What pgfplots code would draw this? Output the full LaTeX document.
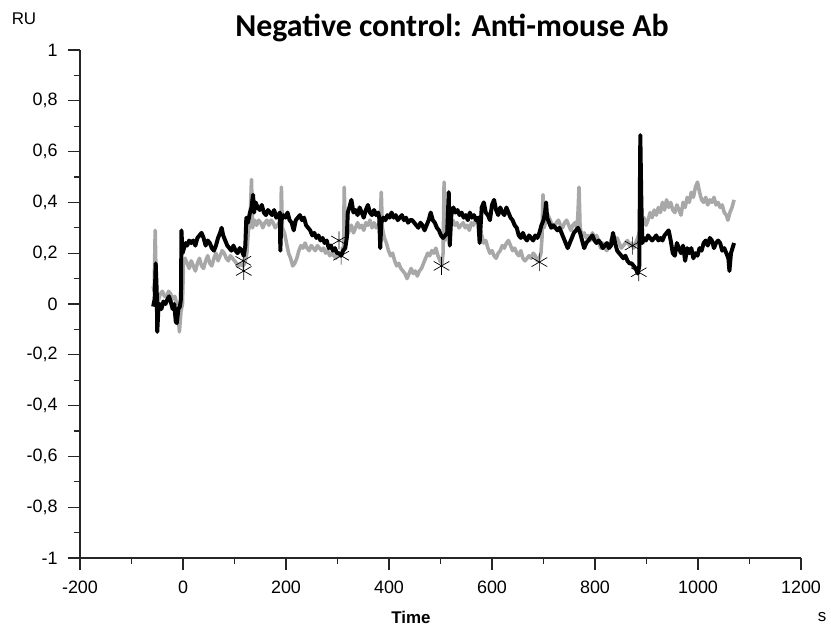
\documentclass[border=0pt]{standalone}
\usepackage{fontspec}
\setmainfont{Liberation Sans}
\newfontfamily\titlefont{Carlito}
\usepackage{pgfplots}
\pgfplotsset{compat=1.18}
\definecolor{lightgr}{RGB}{168,168,168}
\pgfplotstableread{
x y
-58 -0.01
-55 0.02
-53 0.16
-51 0.05
-50 -0.11
-48 -0.03
-45 0.0
-42 -0.02
-38 0.01
-34 0.0
-30 0.02
-27 0.03
-24 0.01
-20 -0.02
-17 0.0
-14 -0.07
-12 -0.075
-9 -0.02
-6 -0.01
-4 0.02
-3 0.29
-1 0.2
2 0.22
5 0.24
8 0.23
12 0.25
16 0.24
20 0.25
24 0.23
28 0.26
32 0.27
36 0.28
40 0.26
44 0.23
48 0.25
52 0.24
56 0.22
60 0.21
64 0.23
68 0.26
72 0.28
75 0.30
78 0.27
82 0.25
86 0.23
90 0.22
94 0.21
98 0.23
102 0.21
106 0.20
110 0.22
114 0.21
118 0.19
121 0.23
123 0.34
126 0.32
130 0.36
133 0.38
136 0.43
138 0.36
141 0.40
145 0.38
149 0.37
153 0.39
157 0.36
161 0.35
165 0.37
169 0.36
173 0.35
177 0.37
181 0.34
185 0.35
188 0.36
189 0.21
191 0.33
195 0.35
199 0.34
203 0.36
207 0.33
211 0.32
215 0.29
219 0.33
223 0.34
227 0.35
231 0.33
235 0.34
239 0.31
243 0.30
247 0.29
251 0.27
255 0.28
259 0.26
263 0.27
267 0.25
271 0.26
275 0.24
279 0.25
283 0.22
287 0.23
291 0.21
295 0.22
299 0.2
303 0.2
307 0.19
311 0.21
315 0.22
318 0.26
320 0.36
323 0.38
327 0.41
331 0.36
335 0.37
339 0.35
343 0.38
347 0.36
351 0.34
355 0.37
359 0.39
363 0.36
367 0.35
371 0.37
375 0.35
379 0.36
381 0.34
383 0.22
385 0.32
389 0.34
393 0.33
397 0.35
401 0.34
405 0.36
409 0.34
413 0.35
417 0.33
421 0.34
425 0.35
429 0.33
433 0.34
437 0.32
441 0.33
445 0.33
449 0.32
453 0.31
457 0.30
461 0.32
465 0.31
469 0.29
473 0.31
477 0.33
481 0.36
485 0.33
489 0.32
493 0.3
497 0.29
501 0.27
505 0.26
509 0.27
513 0.28
516 0.44
518 0.23
521 0.35
525 0.38
529 0.36
533 0.37
537 0.35
541 0.36
545 0.34
549 0.35
553 0.33
557 0.36
561 0.34
565 0.35
569 0.33
573 0.34
576 0.24
580 0.38
584 0.40
588 0.36
592 0.35
596 0.33
600 0.39
604 0.41
608 0.37
612 0.35
616 0.38
620 0.36
624 0.35
628 0.38
632 0.36
636 0.34
640 0.33
644 0.31
648 0.30
652 0.27
656 0.26
660 0.28
664 0.26
668 0.25
672 0.27
676 0.26
680 0.25
684 0.27
688 0.26
692 0.28
696 0.31
700 0.33
703 0.36
705 0.40
707 0.34
711 0.32
715 0.30
719 0.31
723 0.30
727 0.29
731 0.30
735 0.28
739 0.26
743 0.24
747 0.22
751 0.24
755 0.26
759 0.28
763 0.29
767 0.30
771 0.28
775 0.25
779 0.22
783 0.24
787 0.25
791 0.26
795 0.27
799 0.25
803 0.24
807 0.25
811 0.24
815 0.22
819 0.23
823 0.24
827 0.22
831 0.23
835 0.28
839 0.24
843 0.21
847 0.20
851 0.19
855 0.18
859 0.19
863 0.17
867 0.16
871 0.16
875 0.15
879 0.14
883 0.12
886 0.15
888 0.665
890 0.40
892 0.24
895 0.26
899 0.25
903 0.27
907 0.26
911 0.25
915 0.26
919 0.27
923 0.25
927 0.26
931 0.25
935 0.27
939 0.28
943 0.29
947 0.25
951 0.20
955 0.19
959 0.24
963 0.22
967 0.20
971 0.23
975 0.17
979 0.22
983 0.20
987 0.22
991 0.18
995 0.2
999 0.19
1003 0.22
1007 0.21
1011 0.24
1015 0.25
1019 0.23
1023 0.26
1027 0.25
1031 0.22
1035 0.24
1039 0.25
1043 0.24
1047 0.21
1051 0.22
1055 0.20
1059 0.18
1061 0.13
1064 0.20
1067 0.22
1070 0.24
}\blackdata
\pgfplotstableread{
x y
-58 0.07
-56 0.05
-54 0.29
-52 0.06
-50 0.0
-47 0.02
-44 0.04
-40 0.05
-36 0.03
-32 0.03
-28 0.05
-24 0.04
-20 0.02
-16 0.03
-12 0.0
-9 -0.05
-7 -0.11
-4 -0.03
-1 0.0
1 0.17
4 0.18
8 0.16
12 0.14
16 0.17
20 0.15
24 0.13
28 0.16
32 0.18
36 0.15
40 0.14
44 0.17
48 0.19
52 0.16
56 0.15
60 0.18
64 0.20
68 0.17
72 0.19
76 0.21
80 0.20
84 0.18
88 0.17
92 0.19
96 0.18
100 0.17
104 0.16
108 0.15
112 0.16
116 0.15
120 0.16
124 0.20
127 0.29
130 0.31
133 0.49
135 0.30
139 0.33
143 0.31
147 0.33
151 0.32
155 0.30
159 0.32
163 0.33
167 0.31
171 0.33
175 0.32
179 0.30
183 0.31
187 0.32
190 0.31
191 0.46
193 0.30
197 0.28
201 0.24
205 0.20
209 0.18
213 0.15
217 0.16
221 0.18
225 0.21
229 0.23
233 0.22
237 0.24
241 0.22
245 0.21
249 0.23
253 0.22
257 0.21
261 0.23
265 0.22
269 0.21
273 0.22
277 0.20
281 0.21
285 0.19
289 0.20
293 0.19
297 0.18
301 0.20
305 0.19
309 0.20
312 0.22
313 0.46
315 0.30
319 0.27
323 0.29
327 0.31
331 0.28
335 0.30
339 0.32
343 0.30
347 0.31
351 0.29
355 0.32
359 0.31
363 0.33
367 0.30
371 0.32
375 0.30
379 0.31
383 0.33
385 0.44
387 0.30
391 0.26
395 0.24
399 0.21
403 0.19
407 0.20
411 0.17
415 0.15
419 0.16
423 0.14
427 0.13
431 0.12
435 0.10
439 0.12
443 0.14
447 0.12
451 0.13
455 0.11
459 0.13
463 0.14
467 0.16
471 0.18
475 0.20
479 0.19
483 0.21
487 0.20
491 0.22
495 0.19
499 0.17
503 0.16
505 0.20
507 0.48
509 0.25
512 0.30
516 0.29
520 0.31
524 0.33
528 0.31
532 0.32
536 0.30
540 0.31
544 0.32
548 0.30
552 0.31
556 0.29
560 0.32
564 0.31
568 0.33
572 0.34
576 0.31
580 0.27
584 0.24
588 0.25
592 0.22
596 0.20
600 0.21
604 0.19
608 0.18
612 0.20
616 0.21
620 0.23
624 0.22
628 0.24
632 0.25
636 0.23
640 0.21
644 0.22
648 0.20
652 0.19
656 0.21
660 0.18
664 0.17
668 0.18
672 0.19
676 0.18
680 0.2
684 0.19
688 0.17
692 0.18
695 0.20
697 0.26
699 0.43
701 0.30
705 0.33
709 0.35
713 0.33
717 0.31
721 0.30
725 0.32
729 0.33
733 0.31
737 0.30
741 0.32
745 0.33
749 0.31
753 0.29
757 0.31
761 0.32
765 0.30
767 0.36
769 0.46
771 0.30
775 0.27
779 0.28
783 0.26
787 0.27
791 0.25
795 0.28
799 0.26
803 0.27
807 0.25
811 0.22
815 0.24
819 0.22
823 0.21
827 0.23
831 0.25
835 0.27
839 0.25
843 0.26
847 0.24
851 0.22
855 0.23
859 0.24
863 0.25
867 0.23
871 0.24
875 0.22
879 0.24
883 0.26
887 0.29
891 0.32
895 0.34
899 0.31
903 0.33
907 0.36
911 0.34
915 0.37
919 0.35
923 0.38
927 0.36
931 0.40
935 0.37
939 0.41
943 0.38
947 0.40
951 0.37
955 0.36
959 0.39
963 0.37
967 0.35
971 0.40
975 0.38
979 0.42
983 0.40
987 0.44
991 0.42
995 0.46
999 0.48
1003 0.44
1007 0.41
1011 0.40
1015 0.42
1019 0.39
1023 0.41
1027 0.40
1031 0.42
1035 0.39
1039 0.40
1043 0.38
1047 0.39
1051 0.36
1055 0.35
1058 0.33
1062 0.36
1066 0.38
1070 0.41
}\graydata
\begin{document}
\begin{tikzpicture}
\useasboundingbox (-80bp,-73bp) rectangle (751bp,558bp);
\begin{axis}[
  at={(0,0)}, anchor=south west,
  scale only axis, width=721bp, height=508bp,
  xmin=-200, xmax=1200, ymin=-1, ymax=1,
  axis x line=bottom, axis y line=left,
  axis line style={-, line width=1.1pt, black!85},
  xtick={-200,0,200,400,600,800,1000,1200},
  xticklabels={-200,0,200,400,600,800,1000,1200},
  ytick={-1,-0.8,-0.6,-0.4,-0.2,0,0.2,0.4,0.6,0.8,1},
  yticklabels={{-1},{-0,8},{-0,6},{-0,4},{-0,2},{0},{0,2},{0,4},{0,6},{0,8},{1}},
  minor tick num=1,
  tick align=outside,
  major tick length=12bp, minor tick length=6bp,
  tick style={line width=1.1pt, black!85},
  ticklabel style={font=\fontsize{18}{20}\selectfont, black},
  xticklabel style={yshift=-7bp},
  yticklabel style={xshift=-7bp},
  clip=false,
]
\addplot[lightgr, line width=3.6pt, line join=round] table[x=x,y=y] {\graydata};
\addplot[black, line width=4pt, line join=round] table[x=x,y=y] {\blackdata};
\addplot[only marks, mark=asterisk, mark size=9bp, mark options={line width=0.7pt, black}]
  coordinates {(118,0.13) (117,0.17) (307,0.19) (303,0.25) (502,0.15) (692,0.165) (885,0.125) (873,0.23)};
\end{axis}
\node at (372bp,530bp) {\titlefont\bfseries\fontsize{32}{36}\selectfont Negative control: Anti-mouse Ab};
\node at (-56bp,539bp) {\fontsize{17}{19}\selectfont RU};
\node at (331bp,-59bp) {\bfseries\fontsize{17}{19}\selectfont Time};
\node at (742bp,-59bp) {\fontsize{17}{19}\selectfont s};
\end{tikzpicture}
\end{document}
